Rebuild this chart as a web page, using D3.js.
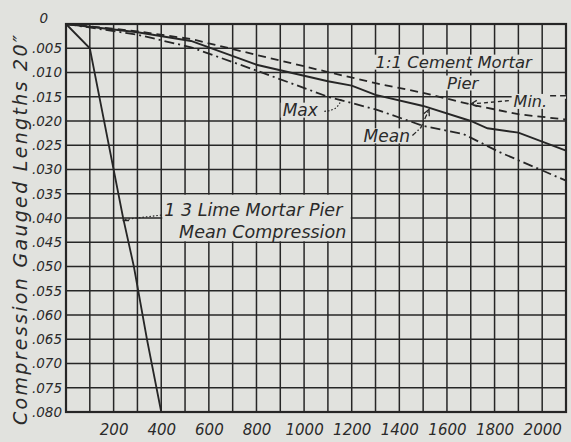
<!DOCTYPE html>
<html>
<head>
<meta charset="utf-8">
<script src="https://cdn.jsdelivr.net/npm/d3@7"></script>
<style>
  body { margin: 0; background: #e1e2de; }
  svg text { font-family: "DejaVu Sans", sans-serif; font-style: italic; fill: #2a2a2a; }
</style>
</head>
<body>
<div id="chart"></div>
<script>
"use strict";

// Load (lb. per sq. in.) and compression (in. on 20" gauged length)
var limeLoad = [0, 100, 160, 200, 240, 285, 340, 400];
var limeComp = [0, 0.005, 0.020, 0.030, 0.040, 0.050, 0.065, 0.080];

var minLoad = [0, 300, 525, 845, 1100, 1300, 1500, 1700, 1900, 2100];
var minComp = [0, 0.0015, 0.0031, 0.0069, 0.0099, 0.0122, 0.0142, 0.0166, 0.0186, 0.0197];

var meanLoad = [0, 300, 525, 800, 1100, 1200, 1300, 1500, 1700, 1770, 1900, 2100];
var meanComp = [0, 0.0017, 0.0035, 0.0084, 0.0118, 0.0127, 0.0146, 0.0169, 0.0200, 0.0215, 0.0224, 0.0261];

var maxLoad = [0, 300, 525, 800, 1100, 1300, 1500, 1670, 1820, 2100];
var maxComp = [0, 0.0022, 0.0048, 0.0096, 0.0150, 0.0176, 0.0210, 0.0227, 0.0264, 0.0323];

// tick labels
var xLabels = [200, 400, 600, 800, 1000, 1200, 1400, 1600, 1800, 2000];
var yTicks = [0, 0.005, 0.010, 0.015, 0.020, 0.025, 0.030, 0.035, 0.040,
              0.045, 0.050, 0.055, 0.060, 0.065, 0.070, 0.075, 0.080];

var paper = "#e1e2de", ink = "#262626";

var margin = { top: 24, right: 5, bottom: 30, left: 66 },
    width = 571 - margin.left - margin.right,
    height = 442 - margin.top - margin.bottom;

var svg = d3.select("#chart").append("svg")
  .attr("width", 571).attr("height", 442);
svg.append("rect").attr("width", 571).attr("height", 442).attr("fill", paper);

var g = svg.append("g")
  .attr("transform", "translate(" + margin.left + "," + margin.top + ")");

var x = d3.scaleLinear().domain([0, 2100]).range([0, width]);
var y = d3.scaleLinear().domain([0, 0.08]).range([0, height]);

var gridG = g.append("g"), maskG = g.append("g"), lineG = g.append("g"), textG = g.append("g");

// grid, every 100 lb and every .005 in.
gridG.selectAll(".vg").data(d3.range(0, 2101, 100)).enter().append("line")
  .attr("x1", function(d) { return x(d); }).attr("x2", function(d) { return x(d); })
  .attr("y1", 0).attr("y2", height)
  .attr("stroke", ink).attr("stroke-width", 1.5);
gridG.selectAll(".hg").data(yTicks).enter().append("line")
  .attr("x1", 0).attr("x2", width)
  .attr("y1", function(d) { return y(d); }).attr("y2", function(d) { return y(d); })
  .attr("stroke", ink).attr("stroke-width", 1.5);
gridG.append("rect").attr("width", width).attr("height", height)
  .attr("fill", "none").attr("stroke", ink).attr("stroke-width", 2.2);

// axes (labels only)
var yAxis = g.append("g").call(d3.axisLeft(y).tickValues(yTicks).tickSize(0).tickPadding(4)
  .tickFormat(function(d) { return d === 0 ? "0" : d3.format(".3f")(d).replace(/^0/, ""); }));
yAxis.select(".domain").remove();
yAxis.selectAll("text").attr("font-size", 13.5).attr("font-family", null)
  .attr("dy", function(d) { return d === 0 ? "-0.1em" : "0.32em"; })
  .attr("dx", function(d) { return d === 0 ? "-14" : "0"; });

var xAxis = g.append("g").attr("transform", "translate(0," + height + ")")
  .call(d3.axisBottom(x).tickValues(xLabels).tickSize(0).tickPadding(12).tickFormat(d3.format("d")));
xAxis.select(".domain").remove();
xAxis.selectAll("text").attr("font-size", 15).attr("font-family", null);

svg.append("text")
  .attr("transform", "rotate(-90)")
  .attr("x", -230).attr("y", 27)
  .attr("text-anchor", "middle")
  .attr("font-size", 19)
  .attr("textLength", 390).attr("lengthAdjust", "spacing")
  .text("Compression Gauged Lengths 20\u2033");

// curves
var line = d3.line().x(function(d) { return x(d[0]); }).y(function(d) { return y(d[1]); });

lineG.append("path").datum(d3.zip(limeLoad, limeComp)).attr("d", line)
  .attr("fill", "none").attr("stroke", ink).attr("stroke-width", 1.8);
lineG.append("path").datum(d3.zip(minLoad, minComp)).attr("d", line)
  .attr("fill", "none").attr("stroke", ink).attr("stroke-width", 1.8)
  .attr("stroke-dasharray", "8,5");
lineG.append("path").datum(d3.zip(meanLoad, meanComp)).attr("d", line)
  .attr("fill", "none").attr("stroke", ink).attr("stroke-width", 1.9);
lineG.append("path").datum(d3.zip(maxLoad, maxComp)).attr("d", line)
  .attr("fill", "none").attr("stroke", ink).attr("stroke-width", 1.8)
  .attr("stroke-dasharray", "10,4,2,4");

// labels, each blanks the grid behind it
function label(txt, xv, yv, size) {
  var t = textG.append("text").attr("x", x(xv)).attr("y", y(yv))
    .attr("font-size", size || 17).text(txt);
  var b = t.node().getBBox();
  maskG.append("rect").attr("x", b.x - 2).attr("width", b.width + 4)
    .attr("y", y(yv) - 13.5).attr("height", 15).attr("fill", paper);
  return b;
}

// lime label box
maskG.append("rect")
  .attr("x", x(400) + 1).attr("width", x(1200) - x(400) - 2)
  .attr("y", y(0.035) + 1).attr("height", y(0.045) - y(0.035) - 2)
  .attr("fill", paper);
textG.append("text").attr("x", x(400) + 3).attr("y", y(0.040) - 2)
  .attr("font-size", 17.5).text("1 3 Lime Mortar Pier");
textG.append("text").attr("x", x(475)).attr("y", y(0.045) - 4)
  .attr("font-size", 17.5).text("Mean Compression");
lineG.append("line").attr("x1", x(248)).attr("y1", y(0.0403))
  .attr("x2", x(400)).attr("y2", y(0.0394))
  .attr("stroke", ink).attr("stroke-width", 1.2).attr("stroke-dasharray", "1.5,2");
lineG.append("line").attr("x1", x(238)).attr("y1", y(0.0405))
  .attr("x2", x(265)).attr("y2", y(0.0405))
  .attr("stroke", ink).attr("stroke-width", 1.6);

label("1:1 Cement Mortar", 1300, 0.0091, 16.5);
label("Pier", 1600, 0.0134, 16.5);
var minBox = label("Min.", 1880, 0.0172, 16);
label("Max", 910, 0.0190);
label("Mean", 1250, 0.0243);

// dashes after "Min."
maskG.append("rect").attr("x", minBox.x + minBox.width).attr("width", width - minBox.x - minBox.width)
  .attr("y", y(0.015) - 2).attr("height", 4).attr("fill", paper);
lineG.append("line").attr("x1", minBox.x + minBox.width + 3).attr("x2", width)
  .attr("y1", y(0.0148)).attr("y2", y(0.0148))
  .attr("stroke", ink).attr("stroke-width", 1.6).attr("stroke-dasharray", "6,4");

function arrowHead(tx, ty, fx, fy) {
  var a = Math.atan2(fy - ty, fx - tx), l = 7, s = 0.45;
  lineG.append("path")
    .attr("d", "M" + (tx + l * Math.cos(a + s)) + "," + (ty + l * Math.sin(a + s)) +
               "L" + tx + "," + ty +
               "L" + (tx + l * Math.cos(a - s)) + "," + (ty + l * Math.sin(a - s)))
    .attr("fill", "none").attr("stroke", ink).attr("stroke-width", 1.3);
}

// Min leader
lineG.append("line").attr("x1", x(1860)).attr("y1", y(0.0158))
  .attr("x2", x(1700)).attr("y2", y(0.0165))
  .attr("stroke", ink).attr("stroke-width", 1.3).attr("stroke-dasharray", "4,3");
arrowHead(x(1700), y(0.0165), x(1860), y(0.0158));

// Max leader
lineG.append("path")
  .attr("d", "M" + x(1085) + "," + y(0.0180) + "Q" + x(1150) + "," + y(0.0178) + " " + x(1155) + "," + y(0.0153))
  .attr("fill", "none").attr("stroke", ink).attr("stroke-width", 1.2).attr("stroke-dasharray", "1.5,2");

// Mean leader
lineG.append("path")
  .attr("d", "M" + x(1455) + "," + y(0.0230) + "L" + x(1490) + "," + y(0.0214) + "L" + x(1525) + "," + y(0.0176))
  .attr("fill", "none").attr("stroke", ink).attr("stroke-width", 1.3).attr("stroke-dasharray", "5,2,1.5,2");
arrowHead(x(1525), y(0.0176), x(1490), y(0.0214));
</script>
</body>
</html>
